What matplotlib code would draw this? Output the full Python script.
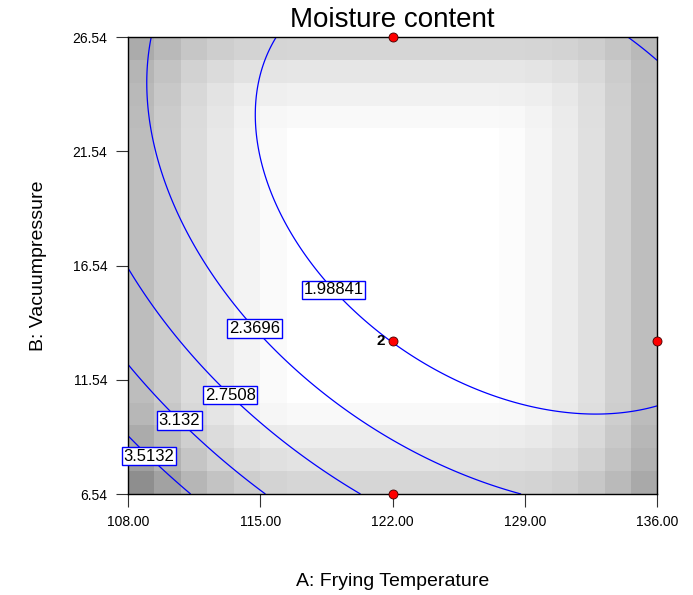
import numpy as np
import matplotlib.pyplot as plt

plt.rcParams['font.family'] = ['Liberation Sans', 'DejaVu Sans']

# factor ranges and ticks
temp_lo, temp_hi = 108.0, 136.0
press_lo, press_hi = 6.54, 26.54
temp_ticks = [108.0, 115.0, 122.0, 129.0, 136.0]
press_ticks = [6.54, 11.54, 16.54, 21.54, 26.54]

# quadratic model in coded units: b0, A, B, AB, A^2, B^2
model_coef = [1.7988, -0.4964, -0.4176, 0.2949, 0.4476, 0.4321]
levels = [1.98841, 2.3696, 2.7508, 3.132, 3.5132]

# design points
pt_temp = [122.0, 122.0, 136.0, 122.0]
pt_press = [26.54, 13.24, 13.24, 6.54]

# shading darkness per column (left->right) and row (bottom->top)
shade_cols = [66, 51, 35, 23, 12, 5, 0, 0, 0, 0, 0, 0, 0, 0, 3, 10, 19, 31, 47, 65]
shade_rows = [41, 28, 18, 6, 0, 0, 0, 0, 0, 0, 0, 0, 0, 0, 0, 0, 6, 14, 25, 41]
corner_w = {'bl': 0.0129, 'br': 0.0033, 'tl': 0.002, 'tr': -0.0026}

# label anchor positions (A, B)
lab_pos = [(118.69, 15.34), (114.83, 13.89), (113.56, 11.00), (110.91, 9.91), (109.4, 8.45)]

fig = plt.figure(figsize=(6.93, 5.95), dpi=100)
ax = fig.add_axes([0.1847, 0.1697, 0.7634, 0.768])

# shading image
nc, nr = len(shade_cols), len(shade_rows)
dark = np.zeros((nr, nc))
for r in range(nr):
    for c in range(nc):
        key = ('b' if r < nr // 2 else 't') + ('l' if c < nc // 2 else 'r')
        dc, dr = shade_cols[c], shade_rows[r]
        dark[r, c] = np.hypot(dc, dr) + corner_w[key] * dc * dr
g = np.clip((255 - dark) / 255, 0, 1)
ax.imshow(np.dstack([g, g, g]), extent=[temp_lo, temp_hi, press_lo, press_hi],
          origin='lower', aspect='auto', interpolation='nearest', zorder=0)

# response surface
A = np.linspace(temp_lo, temp_hi, 300)
B = np.linspace(press_lo, press_hi, 300)
AA, BB = np.meshgrid(A, B)
xc = (AA - 122.0) / 14.0
yc = (BB - 16.54) / 10.0
b = model_coef
Z = b[0] + b[1] * xc + b[2] * yc + b[3] * xc * yc + b[4] * xc ** 2 + b[5] * yc ** 2

cs = ax.contour(AA, BB, Z, levels=levels, colors='#0000ff', linewidths=0.9, zorder=2)
cl = ax.clabel(cs, levels, inline=False, fmt=lambda v: f'{v:g}', manual=lab_pos, fontsize=12)
for t in cl:
    t.set_rotation(0)
    t.set_color('black')
    t.set_bbox(dict(boxstyle='square,pad=0.1', fc='white', ec='#0000ff', lw=1))
    t.set_zorder(5)
    t.set_clip_on(False)

ax.plot(pt_temp, pt_press, 'o', color='red', mec='#400000', mew=0.6, ms=6.5,
        clip_on=False, zorder=6)
ax.text(122.0 - 0.4, 13.24, '2', ha='right', va='center', fontsize=11,
        fontweight='bold', zorder=6)

ax.set_xlim(temp_lo, temp_hi)
ax.set_ylim(press_lo, press_hi)
ax.set_xticks(temp_ticks, [f'{v:.2f}' for v in temp_ticks])
ax.set_yticks(press_ticks, [f'{v:.2f}' for v in press_ticks])
ax.tick_params(direction='out', length=9, width=0.8, color='#333333', labelsize=10, pad=6)
for s in ax.spines.values():
    s.set_linewidth(1)

ax.set_title('Moisture content', fontsize=20, pad=7)
ax.set_xlabel('A: Frying Temperature', fontsize=14, labelpad=32)
ax.set_ylabel('B: Vacuumpressure', fontsize=14, labelpad=18)

fig.savefig('out.png', dpi=100)
